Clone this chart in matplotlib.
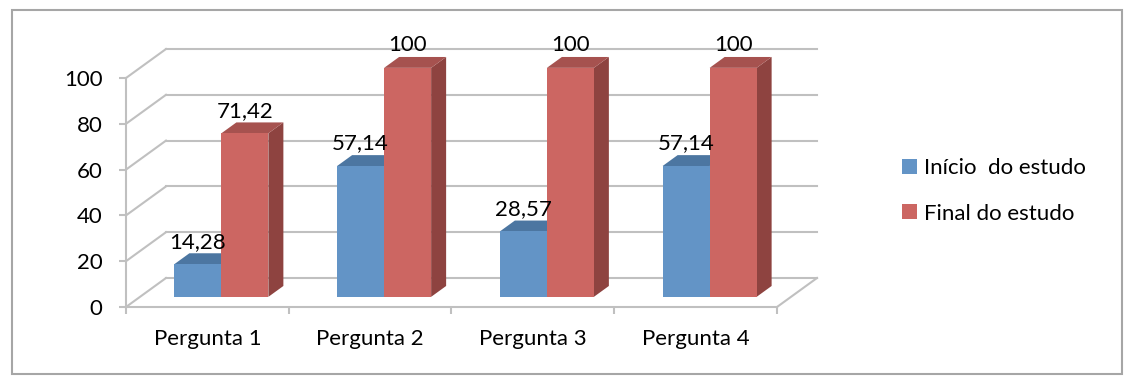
import matplotlib
matplotlib.use("Agg")
import matplotlib.pyplot as plt
from matplotlib.patches import Polygon, Rectangle, Patch

categories = ["Pergunta 1", "Pergunta 2", "Pergunta 3", "Pergunta 4"]
inicio = [14.28, 57.14, 28.57, 57.14]
final = [71.42, 100, 100, 100]
series_names = ["Início  do estudo", "Final do estudo"]
y_ticks = [0, 20, 40, 60, 80, 100]

# colours (front, top, side)
blue = ("#6394C6", "#4C76A1", "#3F6489")
red = ("#CC6662", "#A6524F", "#8E4340")
grid_col = "#C0C0C0"

W, H = 1134, 388
FS = 16
plt.rcParams["font.family"] = ["Lato", "DejaVu Sans"]
plt.rcParams["font.size"] = FS

fig = plt.figure(figsize=(W / 100, H / 100), dpi=100)
# front plane of the 3d box
ax = fig.add_axes([126 / W, (H - 307) / H, 651 / W, 229 / H])
ax.set_xlim(0, len(categories))
ax.set_ylim(0, 100)

px_x = 651 / len(categories)   # pixels per category
px_y = 229 / 100               # pixels per value unit
DX, DY = 40 / px_x, 29 / px_y  # full depth of the box, data units
f0, fd = 0.35, 0.375           # bar front depth and bar thickness (fractions)
bw = 47 / px_x

lw = 1.5
n = len(categories)

# back wall and left wall gridlines
for v in y_ticks:
    ax.plot([DX, n + DX], [v + DY, v + DY], color=grid_col, lw=lw, clip_on=False, zorder=1)
    ax.plot([0, DX], [v, v + DY], color=grid_col, lw=lw, clip_on=False, zorder=1)
# floor right edge
ax.plot([n, n + DX], [0, DY], color=grid_col, lw=lw, clip_on=False, zorder=1)


def bar3d(x0, x1, base, h, cols):
    ddx, ddy = fd * DX, fd * DY
    top = base + h
    ax.add_patch(Polygon([(x1, base), (x1 + ddx, base + ddy), (x1 + ddx, top + ddy), (x1, top)],
                         closed=True, facecolor=cols[2], edgecolor="none", clip_on=False, zorder=3))
    ax.add_patch(Polygon([(x0, top), (x1, top), (x1 + ddx, top + ddy), (x0 + ddx, top + ddy)],
                         closed=True, facecolor=cols[1], edgecolor="none", clip_on=False, zorder=3))
    ax.add_patch(Rectangle((x0, base), x1 - x0, h, facecolor=cols[0], edgecolor="none",
                           clip_on=False, zorder=3))


def fmt(v):
    return ("%g" % v).replace(".", ",")


base = f0 * DY
for i in range(n):
    c = i + 0.5 + f0 * DX
    for (x0, x1), v, cols in (((c - bw, c), inicio[i], blue), ((c, c + bw), final[i], red)):
        bar3d(x0, x1, base, v, cols)
        ax.annotate(fmt(v), ((x0 + x1) / 2, base + v + fd * DY), xytext=(0, 4),
                    textcoords="offset points", ha="center", va="baseline",
                    fontsize=FS, zorder=5, annotation_clip=False)

# axes styling
for s in ("top", "right"):
    ax.spines[s].set_visible(False)
for s in ("left", "bottom"):
    ax.spines[s].set_color(grid_col)
    ax.spines[s].set_linewidth(lw)
ax.set_facecolor("none")

ax.set_yticks(y_ticks)
ax.set_yticklabels([str(v) for v in y_ticks])
ax.set_xticks(range(n + 1))
ax.set_xticklabels([])
ax.set_xticks([i + 0.5 for i in range(n)], minor=True)
ax.set_xticklabels(categories, minor=True)
ax.tick_params(axis="y", length=5, width=lw, color=grid_col, pad=12, labelsize=FS)
ax.tick_params(axis="x", which="major", length=5, width=lw, color=grid_col)
ax.tick_params(axis="x", which="minor", length=0, pad=16, labelsize=FS)

handles = [Patch(facecolor=blue[0]), Patch(facecolor=red[0])]
fig.legend(handles, series_names, loc="center left", bbox_to_anchor=(902 / W, 1 - 191 / H),
           frameon=False, fontsize=FS, handlelength=0.66, handleheight=0.66,
           handletextpad=0.35, labelspacing=1.15, borderpad=0, borderaxespad=0)

fig.patches.append(Rectangle((12 / W, 1 - 374 / H), 1110 / W, 364 / H, transform=fig.transFigure,
                             fill=False, edgecolor="#A6A6A6", lw=1.5))

fig.savefig("out.png", dpi=100)
